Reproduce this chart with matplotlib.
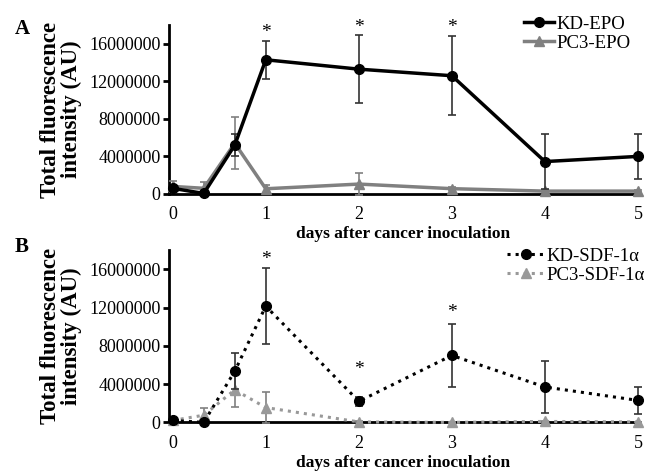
import matplotlib
matplotlib.use("Agg")
import matplotlib.pyplot as plt
from matplotlib.lines import Line2D

plt.rcParams['font.family'] = ['Liberation Serif', 'DejaVu Serif']

days = [0, 1/3, 2/3, 1, 2, 3, 4, 5]
xticks = [0, 1, 2, 3, 4, 5]

kd_epo = [600000, 50000, 5200000, 14300000, 13300000, 12600000, 3450000, 4000000]
kd_epo_err = [150000, 80000, 1200000, 2000000, 3600000, 4200000, 2900000, 2400000]
pc3_epo = [800000, 600000, 5400000, 550000, 1050000, 560000, 300000, 300000]
pc3_epo_err = [600000, 700000, 2750000, 400000, 1200000, 150000, 100000, 100000]

kd_sdf = [200000, 0, 5350000, 12150000, 2200000, 7000000, 3700000, 2300000]
kd_sdf_err = [100000, 50000, 1900000, 4000000, 450000, 3300000, 2750000, 1400000]
pc3_sdf = [200000, 750000, 3400000, 1550000, 50000, 0, 100000, 50000]
pc3_sdf_err = [100000, 750000, 1800000, 1600000, 50000, 30000, 50000, 30000]

star_a_x = [1, 2, 3]
star_a_y = [17200000, 17700000, 17700000]
star_b_x = [1, 2, 3]
star_b_y = [17000000, 5500000, 11500000]

fig = plt.figure(figsize=(6.51, 4.73), dpi=100)
ax1 = fig.add_axes([0.2596, 0.590, 0.7204, 0.357])
ax2 = fig.add_axes([0.2596, 0.107, 0.7204, 0.364])

gray = '#808080'
lgray = '#999999'

def style(ax):
    ax.set_xlim(-0.04, 5.0)
    ax.set_ylim(0, 18000000)
    ax.set_yticks([0, 4000000, 8000000, 12000000, 16000000])
    ax.set_yticklabels(['0', '4000000', '8000000', '12000000', '16000000'])
    ax.set_xticks(xticks)
    ax.spines['top'].set_visible(False)
    ax.spines['right'].set_visible(False)
    ax.spines['left'].set_linewidth(2)
    ax.spines['bottom'].set_linewidth(2)
    ax.tick_params(axis='x', length=0, pad=9, labelsize=13)
    ax.tick_params(axis='y', length=4, width=2, direction='out', pad=2, labelsize=13)
    ax.set_ylabel('Total fluorescence\nintensity (AU)', fontsize=16.5, fontweight='bold', labelpad=5, linespacing=1.0)
    ax.set_xlabel('days after cancer inoculation', fontsize=12.5, fontweight='bold')
    ax.xaxis.set_label_coords(0.5, -0.19)

# Panel A
ax1.errorbar(days, pc3_epo, yerr=pc3_epo_err, color=gray, lw=2.5, marker='^', ms=7,
             ecolor=gray, elinewidth=1.2, capsize=3, capthick=1.2, clip_on=False, zorder=3)
ax1.errorbar(days, kd_epo, yerr=kd_epo_err, color='black', lw=2.5, marker='o', ms=7,
             ecolor='#333333', elinewidth=1.2, capsize=3, capthick=1.2, clip_on=False, zorder=4)
for x, y in zip(star_a_x, star_a_y):
    ax1.text(x, y, '*', ha='center', va='center', fontsize=14)
style(ax1)
ha = [Line2D([], [], color='black', lw=2.5, marker='o', ms=7),
      Line2D([], [], color=gray, lw=2.5, marker='^', ms=7)]
ax1.legend(ha, ['KD-EPO', 'PC3-EPO'], loc='upper right', bbox_to_anchor=(1.0, 1.1), frameon=False, fontsize=13.5,
           handlelength=1.6, handletextpad=0.1, labelspacing=0.1, borderaxespad=0)

# Panel B
ax2.errorbar(days, pc3_sdf, yerr=pc3_sdf_err, color=lgray, lw=2.2, ls=':', marker='^', ms=7,
             ecolor=gray, elinewidth=1.2, capsize=3, capthick=1.2, clip_on=False, zorder=3)
ax2.errorbar(days, kd_sdf, yerr=kd_sdf_err, color='black', lw=2.2, ls=':', marker='o', ms=7,
             ecolor='#333333', elinewidth=1.2, capsize=3, capthick=1.2, clip_on=False, zorder=4)
for x, y in zip(star_b_x, star_b_y):
    ax2.text(x, y, '*', ha='center', va='center', fontsize=14)
style(ax2)
hb = [Line2D([], [], color='black', lw=2.2, ls=':', marker='o', ms=7),
      Line2D([], [], color=lgray, lw=2.2, ls=':', marker='^', ms=7)]
ax2.legend(hb, ['KD-SDF-1α', 'PC3-SDF-1α'], loc='upper right', bbox_to_anchor=(1.03, 1.06), frameon=False, fontsize=13.5,
           handlelength=2.0, handletextpad=0.1, labelspacing=0.1, borderaxespad=0)

fig.text(0.022, 0.96, 'A', fontsize=15, fontweight='bold', ha='left', va='top')
fig.text(0.022, 0.50, 'B', fontsize=15, fontweight='bold', ha='left', va='top')

fig.savefig('out.png', dpi=100)
